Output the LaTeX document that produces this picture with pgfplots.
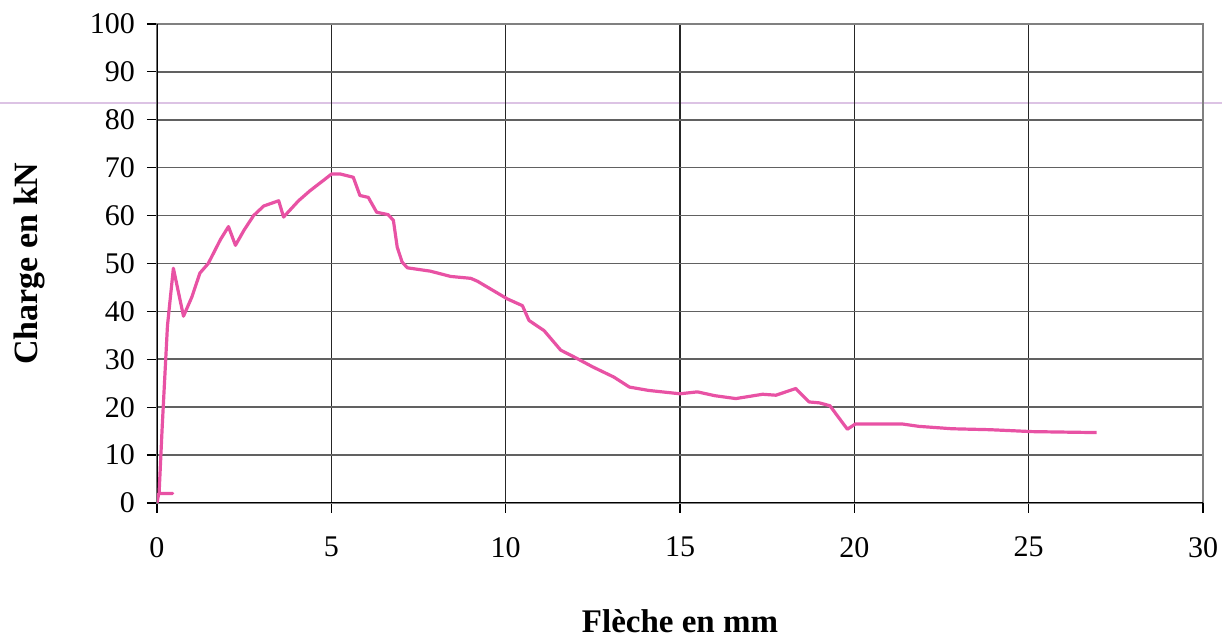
\documentclass[border=0pt]{standalone}
\usepackage{fontspec}
\setmainfont{Liberation Serif}
\usepackage{pgfplots}
\pgfplotsset{compat=1.18}
\definecolor{curve}{RGB}{232,82,164}
\definecolor{scanline}{RGB}{220,195,228}
\begin{document}
\begin{tikzpicture}
\useasboundingbox (-78.5pt,-69.5pt) rectangle (532.5pt,251.5pt);
% faint horizontal streak across the sheet
\draw[scanline, line width=0.6pt] (-78.5pt,200pt) -- (532.5pt,200pt);
\begin{axis}[
  at={(0,0)}, anchor=south west,
  scale only axis, width=523pt, height=239.5pt,
  xmin=0, xmax=30, ymin=0, ymax=100,
  xtick={0,5,...,25}, ytick={0,10,...,100},
  extra x ticks={30}, extra x tick style={grid=none},
  grid=major,
  x grid style={black!85, line width=0.8pt},
  y grid style={black!62, line width=0.8pt},
  axis line style={black!50, line width=0.7pt},
  tick align=outside, tick pos=left, major tick length=5pt,
  tick style={black, line width=0.6pt},
  ticklabel style={font=\fontsize{15}{15}\selectfont},
  /pgf/number format/assume math mode=true,
  yticklabel style={xshift=-2.5pt},
  xticklabel style={yshift=-8.5pt},
  xlabel={Flèche en mm}, ylabel={Charge en kN},
  xlabel style={font=\fontsize{16.5}{16.5}\selectfont\bfseries,
    at={(axis description cs:0.5,-0.2463)}, anchor=center},
  ylabel style={font=\fontsize{17}{17}\selectfont\bfseries,
    at={(axis description cs:-0.1224,0.5)}, anchor=center},
]
\draw[black, line width=0.8pt] (rel axis cs:0,0) -- (rel axis cs:0,1);
\draw[black, line width=0.8pt] (rel axis cs:0,0) -- (rel axis cs:1,0);
\addplot[curve, line width=1.6pt, line join=round] table {
x y
0 0
0.05 2
0.45 2
0.06 2
0.15 16
0.3 37
0.47 49
0.76 39
1.0 43
1.23 48
1.47 50
1.82 55
2.05 57.7
2.25 53.8
2.5 57
2.77 60
3.06 62
3.49 63.1
3.63 59.7
4.06 63.1
4.39 65.2
4.8 67.5
5.01 68.7
5.25 68.7
5.63 68
5.82 64.2
6.06 63.8
6.3 60.7
6.63 60.2
6.78 59
6.89 53.4
7.03 50.3
7.18 49.1
7.84 48.4
8.42 47.3
9.0 46.9
9.19 46.3
10.05 42.6
10.48 41.2
10.67 38.1
11.1 36
11.58 31.9
11.96 30.5
12.5 28.4
13.1 26.3
13.55 24.2
14.1 23.5
15.0 22.8
15.5 23.2
16.0 22.4
16.6 21.8
17.37 22.7
17.75 22.5
18.32 23.9
18.7 21.1
19.0 20.9
19.3 20.3
19.8 15.4
20.03 16.5
21.37 16.5
21.85 16.0
22.8 15.5
23.9 15.3
25.1 14.9
26.95 14.7
};
\end{axis}
\end{tikzpicture}
\end{document}
